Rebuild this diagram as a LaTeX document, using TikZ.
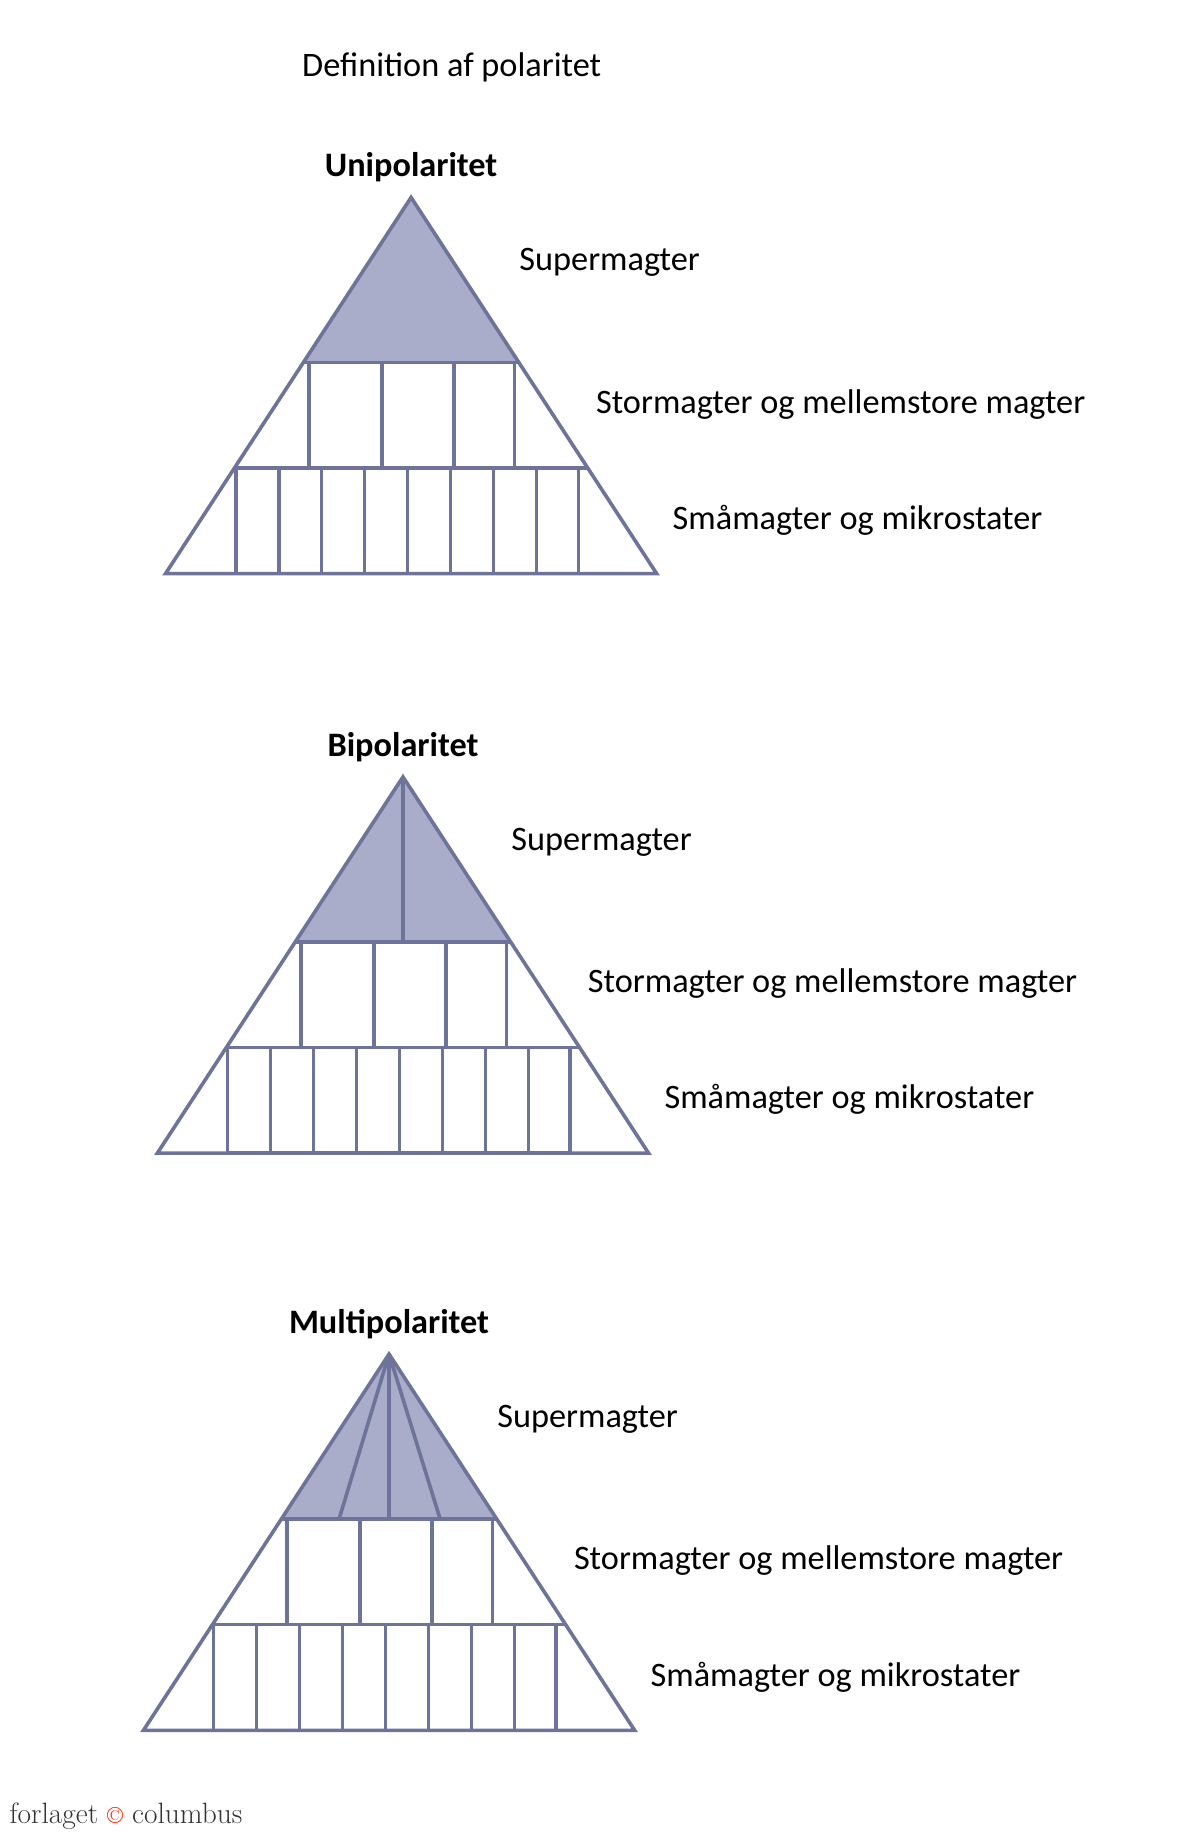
\documentclass[tikz,border=0pt]{standalone}
\usepackage{fontspec}
\setmainfont{Carlito}
\usetikzlibrary{positioning}
\definecolor{edge}{HTML}{6E7399}
\definecolor{polyfill}{HTML}{A9ADCA}
\tikzset{
	wall/.style={draw=edge, line width=2.2pt, line join=miter},
	lbl/.style={anchor=west, inner sep=0pt, font=\fontsize{21}{24}\selectfont},
	head/.style={inner sep=0pt, font=\bfseries\fontsize{21}{24}\selectfont}
}
\begin{document}
\begin{tikzpicture}[x=0.025cm, y=-0.025cm]
	\useasboundingbox (0,0) rectangle (1024,1581);
	\node (title) [inner sep=0pt, font=\fontsize{21}{24}\selectfont] at (389,58) {Definition af polaritet};
	\foreach \px/\py/\name/\kind in {354/170/Unipolaritet/1, 347/669/Bipolaritet/2, 335/1166/Multipolaritet/3} {
		\begin{scope}[shift={(\px,\py)}]
			\coordinate (apex) at (0,0);
			\fill[polyfill] (apex) -- (-92.7,142) -- (92.7,142) -- cycle;
			\ifnum\kind=2 \draw[wall] (apex) -- (0,142); \fi
			\ifnum\kind=3
				\draw[wall] (apex) -- (-43,142);
				\draw[wall] (apex) -- (0,142);
				\draw[wall] (apex) -- (44,142);
			\fi
			% middle band
			\draw[wall] (-88,142) rectangle (89,233);
			\foreach \x in {-25,37} \draw[wall] (\x,142) -- (\x,233);
			% bottom band
			\draw[wall] (-151,233) rectangle (144,324);
			\foreach \x in {-114,-77,-40,-3,34,71,108} \draw[wall] (\x,233) -- (\x,324);
			\draw[wall] (-92.7,142) -- (92.7,142);
			\draw[wall] (-152,233) -- (152,233);
			\draw[wall] (apex) -- (-211.5,324) -- (211.5,324) -- cycle;
			\node (head\kind) [head] at (0,-26) {\name};
			\node (top\kind) [lbl] at (93,56) {Supermagter};
			\node (mid\kind) [lbl] at (159,178) {Stormagter og mellemstore magter};
			\node (low\kind) [lbl] at (225,278) {Småmagter og mikrostater};
		\end{scope}
	}
	\node (logo) [anchor=west, inner sep=0pt, font=\fontfamily{lmr}\fontsize{18}{20}\selectfont, text=black!80] at (8,1564) {forlaget \textcolor{red!70!orange}{\Large\textcopyright} columbus};
\end{tikzpicture}
\end{document}
